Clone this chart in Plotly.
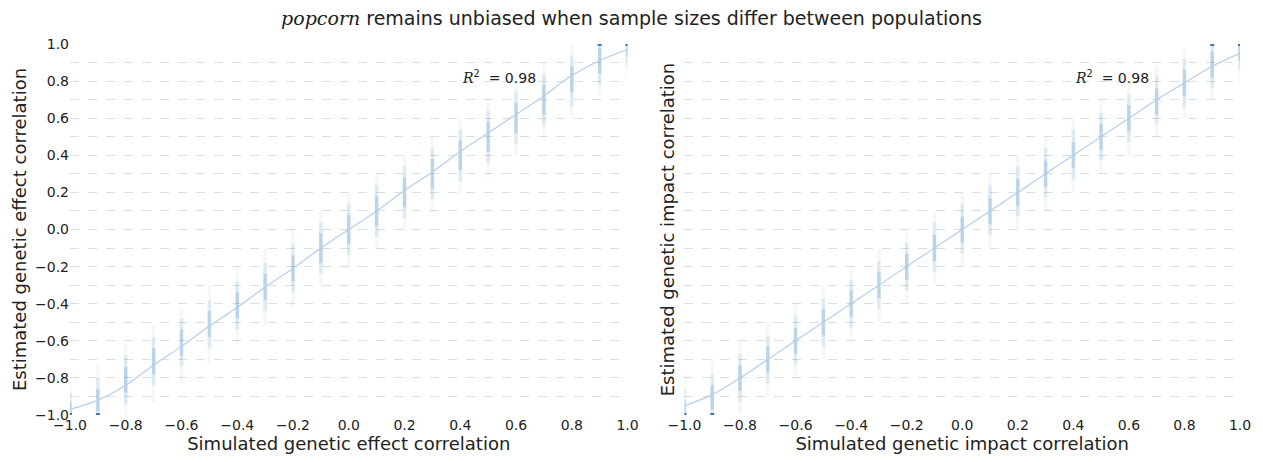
import plotly.graph_objects as go

# ---------------- data ----------------
x_true = [-1.0, -0.9, -0.8, -0.7, -0.6, -0.5, -0.4, -0.3, -0.2, -0.1, 0.0,
          0.1, 0.2, 0.3, 0.4, 0.5, 0.6, 0.7, 0.8, 0.9, 1.0]

# Left panel: genetic effect correlation (estimate spread per simulated value)
eff_outer_lo = [-1.00, -1.00, -1.00, -0.93, -0.83, -0.73, -0.62, -0.52, -0.42, -0.32, -0.21,
                -0.11, -0.01, 0.09, 0.19, 0.28, 0.40, 0.50, 0.60, 0.72, 0.82]
eff_outer_hi = [-0.80, -0.72, -0.62, -0.52, -0.42, -0.30, -0.20, -0.10, 0.00, 0.10, 0.20,
                0.30, 0.40, 0.50, 0.60, 0.70, 0.80, 0.90, 1.00, 1.00, 1.00]
eff_mid_lo = [-1.00, -1.00, -0.94, -0.84, -0.74, -0.64, -0.54, -0.44, -0.34, -0.24, -0.14,
              -0.04, 0.06, 0.16, 0.26, 0.36, 0.46, 0.56, 0.66, 0.78, 0.88]
eff_mid_hi = [-0.88, -0.80, -0.68, -0.58, -0.48, -0.38, -0.28, -0.18, -0.08, 0.04, 0.14,
              0.24, 0.34, 0.44, 0.54, 0.64, 0.74, 0.84, 0.94, 1.00, 1.00]
eff_in_lo = [-1.00, -0.98, -0.88, -0.78, -0.68, -0.58, -0.48, -0.38, -0.28, -0.18, -0.08,
             0.02, 0.12, 0.22, 0.32, 0.42, 0.52, 0.62, 0.74, 0.84, 0.93]
eff_in_hi = [-0.93, -0.86, -0.74, -0.64, -0.54, -0.44, -0.34, -0.24, -0.14, -0.02, 0.08,
             0.18, 0.28, 0.38, 0.48, 0.58, 0.68, 0.78, 0.88, 0.98, 1.00]
eff_fit = [-0.97, -0.92, -0.84, -0.73, -0.63, -0.52, -0.42, -0.31, -0.21, -0.10, 0.00,
           0.10, 0.21, 0.31, 0.42, 0.52, 0.62, 0.72, 0.83, 0.91, 0.97]

# Right panel: genetic impact correlation
imp_outer_lo = [-1.00, -1.00, -0.99, -0.90, -0.80, -0.70, -0.60, -0.50, -0.40, -0.30, -0.20,
                -0.10, 0.00, 0.10, 0.20, 0.30, 0.40, 0.50, 0.60, 0.70, 0.80]
imp_outer_hi = [-0.78, -0.70, -0.60, -0.50, -0.40, -0.30, -0.20, -0.10, 0.00, 0.10, 0.20,
                0.30, 0.40, 0.50, 0.60, 0.70, 0.80, 0.88, 0.98, 1.00, 1.00]
imp_mid_lo = [-1.00, -1.00, -0.93, -0.83, -0.73, -0.63, -0.53, -0.43, -0.33, -0.23, -0.13,
              -0.03, 0.07, 0.17, 0.27, 0.37, 0.47, 0.57, 0.66, 0.76, 0.86]
imp_mid_hi = [-0.86, -0.78, -0.67, -0.57, -0.47, -0.37, -0.27, -0.17, -0.07, 0.04, 0.14,
              0.24, 0.34, 0.44, 0.54, 0.63, 0.73, 0.83, 0.92, 1.00, 1.00]
imp_in_lo = [-1.00, -0.97, -0.87, -0.77, -0.67, -0.57, -0.47, -0.37, -0.27, -0.17, -0.07,
             0.03, 0.13, 0.23, 0.33, 0.43, 0.53, 0.62, 0.72, 0.82, 0.91]
imp_in_hi = [-0.92, -0.84, -0.73, -0.63, -0.53, -0.43, -0.33, -0.23, -0.13, -0.03, 0.07,
             0.17, 0.27, 0.37, 0.47, 0.57, 0.67, 0.76, 0.86, 0.96, 1.00]
imp_fit = [-0.95, -0.89, -0.80, -0.70, -0.60, -0.50, -0.40, -0.30, -0.20, -0.10, 0.00,
           0.10, 0.20, 0.30, 0.40, 0.50, 0.60, 0.70, 0.79, 0.88, 0.95]

# clipped estimates piling up at the bounds
eff_edge_x = [-1.0, -0.9, 0.9, 1.0]
eff_edge_y = [-1.0, -1.0, 1.0, 1.0]
imp_edge_x = [-1.0, -0.9, 0.9, 1.0]
imp_edge_y = [-1.0, -1.0, 1.0, 1.0]

r2_left = 0.98
r2_right = 0.98

title_text = ('<span style="font-family:\'DejaVu Serif\'"><i>popcorn</i></span>'
              ' remains unbiased when sample sizes differ between populations')
x_titles = ["Simulated genetic effect correlation", "Simulated genetic impact correlation"]
y_titles = ["Estimated genetic effect correlation", "Estimated genetic impact correlation"]
y_ticks = [-1.0, -0.8, -0.6, -0.4, -0.2, 0.0, 0.2, 0.4, 0.6, 0.8, 1.0]

# ---------------- figure ----------------
fig = go.Figure()
FONT = "DejaVu Sans"
PT = "rgba(31,119,180,{a})"


def strip(lo, hi, alpha, width, xa, ya):
    xs, ys = [], []
    for xv, a, b in zip(x_true, lo, hi):
        xs += [xv, xv, None]
        ys += [a, b, None]
    fig.add_trace(go.Scatter(x=xs, y=ys, mode="lines", xaxis=xa, yaxis=ya,
                             line=dict(color=PT.format(a=alpha), width=width),
                             hoverinfo="skip", showlegend=False))


panels = [
    ("x", "y", (eff_outer_lo, eff_outer_hi), (eff_mid_lo, eff_mid_hi), (eff_in_lo, eff_in_hi),
     eff_fit, eff_edge_x, eff_edge_y),
    ("x2", "y2", (imp_outer_lo, imp_outer_hi), (imp_mid_lo, imp_mid_hi), (imp_in_lo, imp_in_hi),
     imp_fit, imp_edge_x, imp_edge_y),
]
for xa, ya, outer, mid, inner, fit, ex, ey in panels:
    strip(outer[0], outer[1], 0.05, 3.5, xa, ya)
    strip(mid[0], mid[1], 0.10, 3.5, xa, ya)
    strip(inner[0], inner[1], 0.18, 3.5, xa, ya)
    fig.add_trace(go.Scatter(x=x_true, y=fit, mode="lines", xaxis=xa, yaxis=ya,
                             line=dict(color="#b3cfee", width=1.2, shape="spline"),
                             hoverinfo="skip", showlegend=False))
    fig.add_trace(go.Scatter(x=ex, y=ey, mode="markers", xaxis=xa, yaxis=ya,
                             marker=dict(color="rgba(31,100,170,0.85)", size=4, symbol="square"),
                             hoverinfo="skip", showlegend=False))

W, H = 1263, 462
ml, mr, mt, mb = 70, 22, 44, 45
pw = W - ml - mr
d1 = [0, (628 - ml) / pw]
d2 = [(685 - ml) / pw, 1]

common_x = dict(range=[-1, 1], dtick=0.2, tick0=-1, showgrid=False, zeroline=False,
                showline=False, ticks="", tickformat=".1f",
                tickfont=dict(family=FONT, size=14, color="#222"),
                title=dict(font=dict(family=FONT, size=18, color="#222"), standoff=4))
common_y = dict(range=[-1, 1], tickvals=y_ticks, tickformat=".1f", zeroline=False,
                showline=False, ticks="",
                showgrid=True, gridcolor="#dddddd", griddash="dash", gridwidth=1,
                minor=dict(dtick=0.1, tick0=-1, showgrid=True, gridcolor="#dddddd",
                           griddash="dash", gridwidth=1),
                tickfont=dict(family=FONT, size=14, color="#222"),
                title=dict(font=dict(family=FONT, size=18, color="#222")))

fig.update_layout(
    width=W, height=H,
    margin=dict(l=ml, r=mr, t=mt, b=mb),
    paper_bgcolor="white", plot_bgcolor="white",
    font=dict(family=FONT, color="#222"),
    title=dict(text=title_text, x=0.5, xanchor="center", y=1 - 18 / H, yanchor="middle",
               font=dict(family=FONT, size=19, color="#222")),
    xaxis=dict(common_x, domain=d1, anchor="y", title_text=x_titles[0]),
    yaxis=dict(common_y, domain=[0, 1], anchor="x", title_text=y_titles[0]),
    xaxis2=dict(common_x, domain=d2, anchor="y2", title_text=x_titles[1]),
    yaxis2=dict(common_y, domain=[0, 1], anchor="x2", title_text=y_titles[1],
                showticklabels=False),
)
fig.layout.yaxis.title.standoff = 3
fig.layout.yaxis2.title.standoff = 4

for xr, yr, r2 in (("x", "y", r2_left), ("x2", "y2", r2_right)):
    fig.add_annotation(x=0.4, y=0.82, xref=xr, yref=yr, xanchor="left", yanchor="middle",
                       showarrow=False,
                       text=('<span style="font-family:\'DejaVu Serif\'"><i>R</i></span>'
                             '<sup>2</sup>  = ' + f"{r2:.2f}"),
                       font=dict(family=FONT, size=14, color="#222"))

fig.write_html("out.html")
